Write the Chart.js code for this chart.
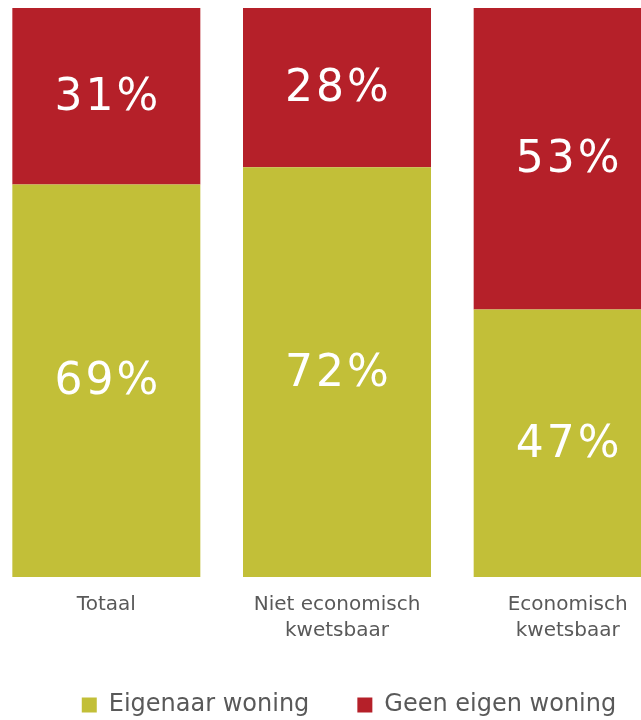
<!DOCTYPE html>
<html>
<head>
<meta charset="utf-8">
<script src="https://cdn.jsdelivr.net/npm/chart.js@4/dist/chart.umd.min.js"></script>
<style>
  html, body { margin: 0; padding: 0; background: #ffffff; overflow: hidden; width: 641px; height: 720px; }
  #wrap { position: absolute; left: -9px; top: 0; width: 716px; height: 727px; }
  canvas { display: block; }
</style>
</head>
<body>
<div id="wrap"><canvas id="c" width="716" height="727"></canvas></div>
<script>
const categories = [["Totaal"], ["Niet economisch", "kwetsbaar"], ["Economisch", "kwetsbaar"]];
const seriesNames = ["Eigenaar woning", "Geen eigen woning"];
const eigenaarValues = [69, 72, 47];
const geenEigenValues = [31, 28, 53];
const seriesColors = ["#C2BF38", "#B52029"];

const labelPlugin = {
  id: 'segmentLabels',
  afterDatasetsDraw(chart) {
    const ctx = chart.ctx;
    ctx.save();
    ctx.fillStyle = '#ffffff';
    ctx.font = '400 44px "DejaVu Sans"';
    ctx.textAlign = 'center';
    ctx.textBaseline = 'middle';
    if ('letterSpacing' in ctx) ctx.letterSpacing = '3px';
    chart.data.datasets.forEach((ds, di) => {
      const meta = chart.getDatasetMeta(di);
      meta.data.forEach((el, i) => {
        const p = el.getProps(['x', 'y', 'base'], true);
        ctx.fillText(ds.data[i] + '%', p.x + 1.5, (p.y + p.base) / 2 + 2);
      });
    });
    ctx.restore();
  }
};

new Chart(document.getElementById('c'), {
  type: 'bar',
  data: {
    labels: categories,
    datasets: [
      { label: seriesNames[0], data: eigenaarValues, backgroundColor: seriesColors[0], borderWidth: 0 },
      { label: seriesNames[1], data: geenEigenValues, backgroundColor: seriesColors[1], borderWidth: 0 }
    ]
  },
  options: {
    responsive: false,
    devicePixelRatio: 1,
    animation: false,
    events: [],
    layout: { padding: { top: 8, left: 0, right: 0, bottom: 0 } },
    datasets: { bar: { categoryPercentage: 0.815, barPercentage: 1 } },
    scales: {
      x: {
        stacked: true,
        grid: { display: false, drawTicks: false },
        border: { display: false },
        ticks: {
          padding: 15,
          color: '#595959',
          font: { family: '"DejaVu Sans"', size: 20, lineHeight: 1.3 },
          maxRotation: 0, autoSkip: false
        },
        afterFit(scale) { scale.height = 68; }
      },
      y: {
        stacked: true,
        position: 'right',
        min: 0, max: 100,
        grid: { display: false, drawTicks: false },
        border: { display: false },
        ticks: { display: false },
        afterFit(scale) { scale.width = 24; }
      }
    },
    plugins: {
      tooltip: { enabled: false },
      legend: {
        position: 'bottom',
        labels: {
          boxWidth: 15,
          boxHeight: 15,
          padding: 48,
          color: '#595959',
          font: { family: '"DejaVu Sans"', size: 24 }
        }
      }
    }
  },
  plugins: [labelPlugin]
});
</script>
</body>
</html>
